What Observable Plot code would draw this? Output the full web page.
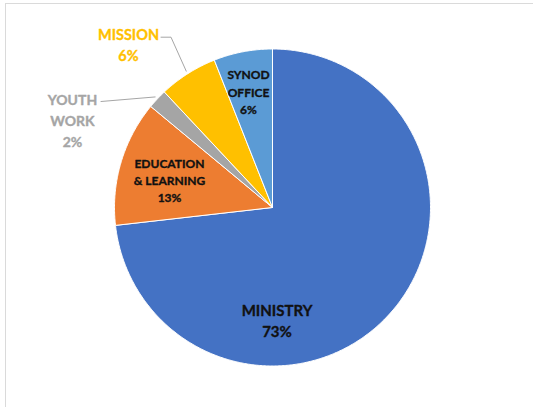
<!DOCTYPE html>
<html>
<head>
<meta charset="utf-8">
<script src="https://cdn.jsdelivr.net/npm/d3@7"></script>
<script src="https://cdn.jsdelivr.net/npm/@observablehq/plot@0.6"></script>
<style>
  html, body { margin: 0; padding: 0; background: #fff; overflow: hidden; }
  #wrap { position: relative; width: 533px; height: 407px; overflow: hidden; }
  #frame { position: absolute; left: 5px; top: 3px; width: 700px; height: 600px;
           border: 1.5px solid #dadada; box-sizing: border-box; }
  #chart { position: absolute; left: 0; top: 0; }
  #chart g[aria-label="shadow"] { filter: blur(3px); }
</style>
</head>
<body>
<div id="wrap"><div id="frame"></div><div id="chart"></div></div>
<script>
// ---- data ----
const categories = ["MINISTRY", "EDUCATION & LEARNING", "YOUTH WORK", "MISSION", "SYNOD OFFICE"];
const values = [73.2, 12.8, 2.0, 6.0, 6.0];
const labelLines = ["MINISTRY", "EDUCATION\n& LEARNING", "YOUTH\nWORK", "MISSION", "SYNOD\nOFFICE"];

// ---- styles / layout ----
const palette = ["#4472C4", "#ED7D31", "#A5A5A5", "#FFC000", "#5B9BD5"];
const W = 533, H = 407;
const cx = 272, cy = 207, rx = 158, ry = 158.5;
const labelLayout = [
  {x: 276.5, y: 319, size: 15, lh: 1.4, color: "#111"},
  {x: 169, y: 179, size: 12, lh: 1.42, color: "#111"},
  {x: 72, y: 118.5, size: 14, lh: 1.5, color: "#A5A5A5", leader: {ax: 100.5, ay: 101}},
  {x: 128, y: 43.5, size: 14.5, lh: 1.45, color: "#FFC000", leader: {ax: 160.5, ay: 36.7, elbow: 170.5}},
  {x: 248, y: 90.5, size: 12, lh: 1.46, color: "#111"}
];

const total = d3.sum(values);
const arcs = d3.pie().sort(null).value(d => d)(values);

function arcPoints(a0, a1, cat, withCenter) {
  const pts = [];
  if (withCenter) pts.push({cat, x: cx, y: cy});
  const n = Math.max(2, Math.ceil((a1 - a0) / (Math.PI / 360)));
  for (let k = 0; k <= n; k++) {
    const t = a0 + (a1 - a0) * k / n;
    pts.push({cat, x: cx + rx * Math.sin(t), y: cy - ry * Math.cos(t)});
  }
  if (withCenter) pts.push({cat, x: cx, y: cy});
  return pts;
}

const slices = arcs.map((a, i) => ({
  cat: categories[i], color: palette[i],
  pts: arcPoints(a.startAngle, a.endAngle, categories[i], true)
}));
const disk = arcPoints(0, 2 * Math.PI, "all", false);

const labels = arcs.map((a, i) => ({
  text: labelLines[i] + "\n" + Math.round(values[i] / total * 100) + "%",
  ...labelLayout[i]
}));

const leaderPts = [];
arcs.forEach((a, i) => {
  const L = labelLayout[i].leader;
  if (!L) return;
  const mid = (a.startAngle + a.endAngle) / 2;
  const id = categories[i];
  leaderPts.push({id, x: L.ax, y: L.ay});
  if (L.elbow != null) leaderPts.push({id, x: L.elbow, y: L.ay});
  leaderPts.push({id, x: cx + (rx + 3) * Math.sin(mid), y: cy - (ry + 3) * Math.cos(mid)});
});

const sliceMarks = slices.map(s =>
  Plot.line(s.pts, {x: "x", y: "y", fill: s.color, stroke: "#fff", strokeWidth: 1,
    strokeLinejoin: "round", curve: "linear"})
);

const textMarks = labels.map(l =>
  Plot.text([l], {
    x: "x", y: "y", text: "text",
    fontSize: l.size, lineHeight: l.lh, fill: l.color,
    stroke: l.color, strokeWidth: 0.35,
    fontWeight: "bold", fontFamily: "Lato, 'Open Sans', sans-serif",
    textAnchor: "middle"
  })
);

const chart = Plot.plot({
  width: W, height: H,
  marginTop: 0, marginRight: 0, marginBottom: 0, marginLeft: 0,
  style: {background: "transparent", overflow: "visible"},
  x: {domain: [0, W], range: [0, W], axis: null},
  y: {domain: [0, H], range: [0, H], axis: null},
  marks: [
    Plot.line(disk, {x: "x", y: "y", fill: "rgba(0,0,0,0.45)", stroke: "none", ariaLabel: "shadow"}),
    ...sliceMarks,
    Plot.line(leaderPts, {x: "x", y: "y", z: "id", stroke: "#A6A6A6", strokeWidth: 1, curve: "linear"}),
    ...textMarks
  ]
});
document.getElementById("chart").appendChild(chart);
</script>
</body>
</html>
